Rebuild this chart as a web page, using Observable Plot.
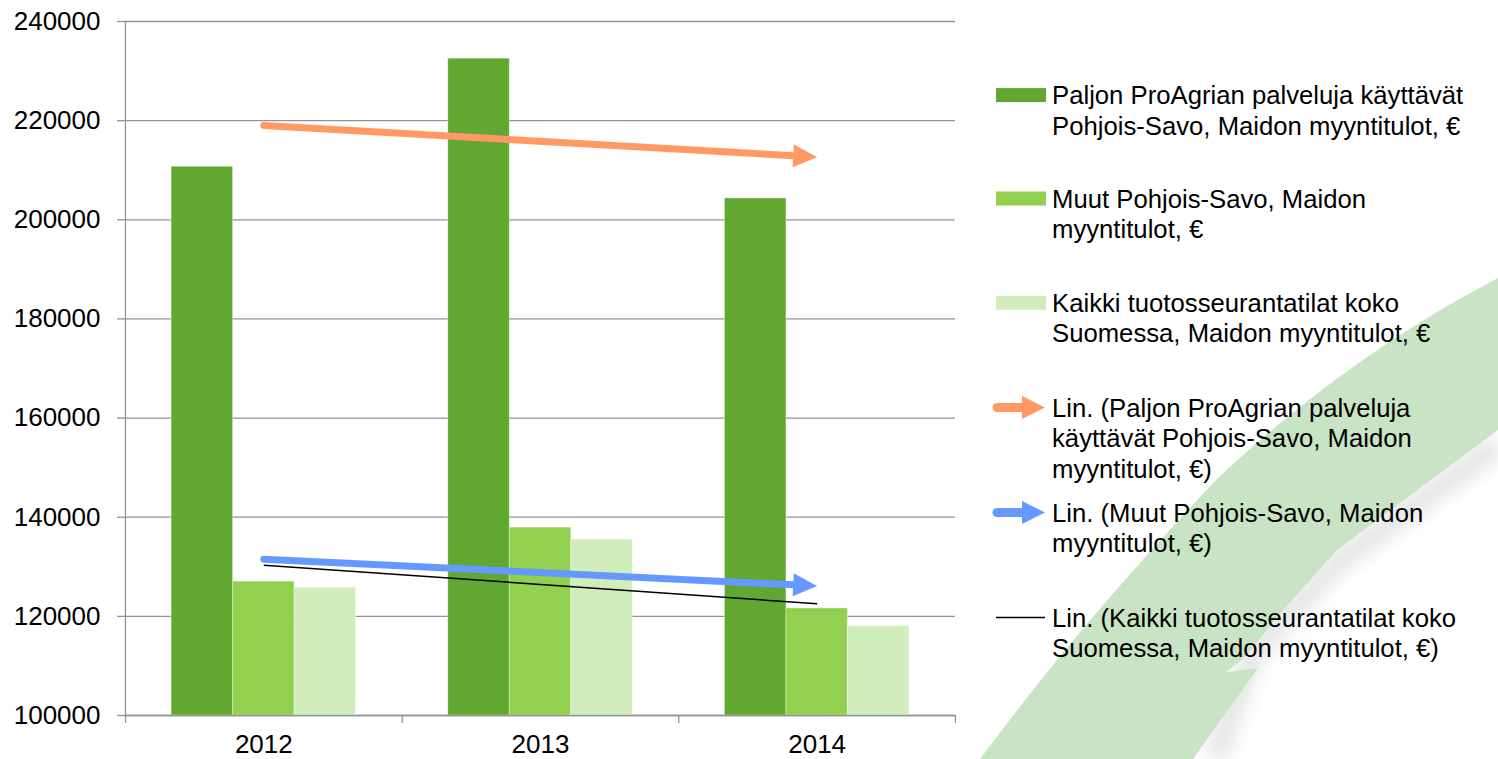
<!DOCTYPE html>
<html><head><meta charset="utf-8">
<script src="https://cdn.jsdelivr.net/npm/d3@7"></script>
<script src="https://cdn.jsdelivr.net/npm/@observablehq/plot@0.6"></script>
<style>
html,body{margin:0;padding:0;background:#fff;}
#wrap{position:relative;width:1498px;height:759px;overflow:hidden;font-family:Arial,"Liberation Sans",sans-serif;}
#bg,#chart,#legendsvg{position:absolute;left:0;top:0;}
.item{position:absolute;left:1052px;font-size:25.7px;line-height:30.5px;color:#000;white-space:nowrap;}
</style></head><body>
<div id="wrap">
<svg id="bg" width="1498" height="759">
  <defs><filter id="blur" x="-20%" y="-20%" width="140%" height="140%"><feGaussianBlur stdDeviation="9"/></filter></defs>
  <path d="M1498,445 L1340,560 L1280,622 L1250,660 L1215,759" fill="none" stroke="#e4e4e4" stroke-width="22" filter="url(#blur)"/>
  <path d="M980,759 C1040,680 1090,615 1213,483 C1290,410 1380,340 1498,278 L1498,430 L1337,550 L1277,617 L1245,657 L1226,672 L1258,668 L1193,759 Z" fill="#C9E4C4"/>
</svg>
<div id="chart"></div>
<svg id="legendsvg" width="1498" height="759"></svg>
</div>
<script>
// ---- data ----
const years = [2012, 2013, 2014];
const seriesNames = [
  "Paljon ProAgrian palveluja käyttävät Pohjois-Savo, Maidon myyntitulot, €",
  "Muut Pohjois-Savo, Maidon myyntitulot, €",
  "Kaikki tuotosseurantatilat koko Suomessa, Maidon myyntitulot, €"
];
const proagria = [210700, 232500, 204300];
const muut = [127000, 137900, 121600];
const kaikki = [125800, 135500, 118000];
const yTicks = [100000, 120000, 140000, 160000, 180000, 200000, 220000, 240000];
const legendLabels = [
  ["Paljon ProAgrian palveluja käyttävät", "Pohjois-Savo, Maidon myyntitulot, €"],
  ["Muut Pohjois-Savo, Maidon", "myyntitulot, €"],
  ["Kaikki tuotosseurantatilat koko", "Suomessa, Maidon myyntitulot, €"],
  ["Lin. (Paljon ProAgrian palveluja", "käyttävät Pohjois-Savo, Maidon", "myyntitulot, €)"],
  ["Lin. (Muut Pohjois-Savo, Maidon", "myyntitulot, €)"],
  ["Lin. (Kaikki tuotosseurantatilat koko", "Suomessa, Maidon myyntitulot, €)"]
];

// ---- styles ----
const seriesColors = ["#60A830", "#92D050", "#D1EDBC"];
const trendColors = ["#FF9966", "#6699FF", "#000000"];
const trendWidths = [7, 7, 1.5];
const gridColor = "#939393";

const W = 1498, H = 759, ML = 125, MR = 543, MT = 21, MB = 44;
const xDomain = [years[0] - 0.5, years[years.length - 1] + 0.5];
const yDomain = [yTicks[0], yTicks[yTicks.length - 1]];
const pxPerYear = (W - ML - MR) / (xDomain[1] - xDomain[0]);
const pxPerUnit = (H - MT - MB) / (yDomain[1] - yDomain[0]);
const barW = 1 / 4.5;
const boundaries = d3.range(xDomain[0], xDomain[1] + 0.01, 1);

const seriesValues = [proagria, muut, kaikki];
const bars = seriesValues.flatMap((vals, i) => years.map((yr, j) => ({series: seriesNames[i], idx: i, year: yr, value: vals[j]})));

function linreg(xs, ys) {
  const mx = d3.mean(xs), my = d3.mean(ys);
  const b = d3.sum(xs, (x, k) => (x - mx) * (ys[k] - my)) / d3.sum(xs, x => (x - mx) ** 2);
  return x => my + b * (x - mx);
}
const headLen = 24, headHalf = 11.5;
function headSymbol(a) {
  const c = Math.cos(a), s = Math.sin(a);
  const pts = [[0, 0], [-headLen, -headHalf], [-headLen, headHalf]].map(([x, y]) => [x * c - y * s, x * s + y * c]);
  return {draw(ctx) { ctx.moveTo(pts[0][0], pts[0][1]); ctx.lineTo(pts[1][0], pts[1][1]); ctx.lineTo(pts[2][0], pts[2][1]); ctx.closePath(); }};
}

const trendMarks = [];
[2, 1, 0].forEach(i => {
  const f = linreg(years, seriesValues[i]);
  const x0 = years[0], x1 = years[years.length - 1];
  const hasHead = i < 2;
  const xe = hasHead ? x1 - (headLen - 5) / pxPerYear : x1;
  trendMarks.push(Plot.line([{x: x0, y: f(x0)}, {x: xe, y: f(xe)}], {x: "x", y: "y", stroke: trendColors[i], strokeWidth: trendWidths[i], strokeLinecap: hasHead ? "round" : "butt"}));
  if (hasHead) {
    const a = Math.atan2(-(f(x1) - f(x0)) * pxPerUnit, (x1 - x0) * pxPerYear);
    trendMarks.push(Plot.dot([{x: x1, y: f(x1)}], {x: "x", y: "y", symbol: headSymbol(a), fill: trendColors[i], stroke: "none", r: 10}));
  }
});

const chart = Plot.plot({
  width: W, height: H,
  marginLeft: ML, marginRight: MR, marginTop: MT, marginBottom: MB,
  style: {background: "transparent", overflow: "visible", fontFamily: "Arial, 'Liberation Sans', sans-serif"},
  x: {type: "linear", domain: xDomain},
  y: {type: "linear", domain: yDomain},
  color: {domain: seriesNames, range: seriesColors},
  marks: [
    Plot.gridY({ticks: yTicks, stroke: gridColor, strokeOpacity: 1, strokeWidth: 1.3}),
    Plot.axisY({ticks: yTicks, tickSize: 8, tickPadding: 17, tickFormat: d => String(d), stroke: gridColor, strokeWidth: 1.3, fill: "#000", fontSize: 26, label: null}),
    Plot.axisX({ticks: boundaries, tickSize: 8, tickFormat: () => "", stroke: gridColor, strokeWidth: 1.3, label: null}),
    Plot.axisX({ticks: years, tickSize: 0, tickPadding: 19, tickFormat: d => String(d), fill: "#000", fontSize: 26, label: null}),
    Plot.ruleX([xDomain[0]], {stroke: gridColor, strokeWidth: 1.3}),
    Plot.rectY(bars, {x1: d => d.year + (d.idx - 1.5) * barW, x2: d => d.year + (d.idx - 0.5) * barW, y1: yDomain[0], y2: "value", fill: "series", stroke: "#fff", strokeOpacity: 0.35, strokeWidth: 1}),
    Plot.ruleY([yDomain[0]], {stroke: gridColor, strokeWidth: 1.3}),
    ...trendMarks
  ]
});
document.getElementById("chart").appendChild(chart);

// ---- legend ----
const wrap = document.getElementById("wrap");
const lsvg = d3.select("#legendsvg");
const baselines = [104.3, 207.7, 312, 416.7, 521.7, 626.7];
const fs = 25.7, lh = 30.5;
legendLabels.forEach((lines, k) => {
  const div = document.createElement("div");
  div.className = "item";
  div.style.top = (baselines[k] - ((lh - fs * 1.117) / 2 + fs * 0.905)) + "px";
  div.innerHTML = lines.map(l => l.replace(/&/g, "&amp;")).join("<br>");
  wrap.appendChild(div);
  const cy = baselines[k] - fs * 0.716 / 2;
  if (k < 3) {
    lsvg.append("rect").attr("x", 996).attr("y", cy - 7).attr("width", 50).attr("height", 14).attr("fill", seriesColors[k]);
  } else if (k < 5) {
    const c = trendColors[k - 3];
    lsvg.append("line").attr("x1", 997).attr("x2", 1026).attr("y1", cy).attr("y2", cy).attr("stroke", c).attr("stroke-width", 9).attr("stroke-linecap", "round");
    lsvg.append("path").attr("d", `M1022,${cy - 11.5}L1045,${cy}L1022,${cy + 11.5}Z`).attr("fill", c);
  } else {
    lsvg.append("line").attr("x1", 996).attr("x2", 1045).attr("y1", cy).attr("y2", cy).attr("stroke", trendColors[2]).attr("stroke-width", 1.5);
  }
});
</script>
</body></html>
